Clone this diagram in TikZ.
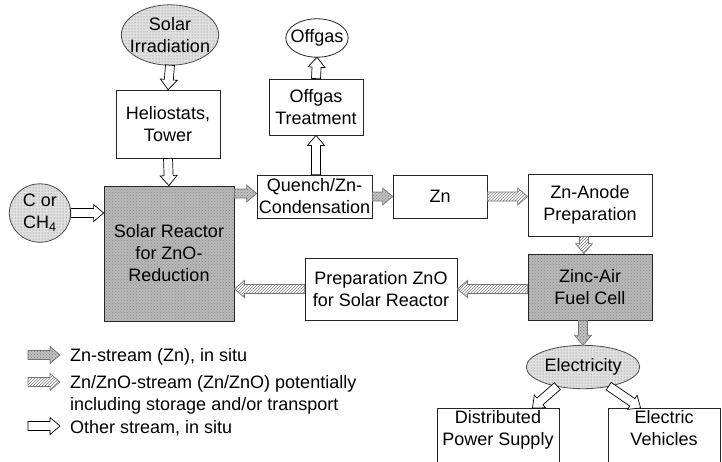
\documentclass[tikz,border=0pt]{standalone}
\usepackage{fontspec}
\setmainfont{Liberation Sans}
\usetikzlibrary{calc,patterns,backgrounds}
\newcommand{\dfont}{\fontsize{18}{22}\selectfont}
\newcommand{\blockarrow}[3]{%
  \path[#1] let \p1=($(#3)-(#2)$), \n1={veclen(\x1,\y1)}, \n2={atan2(\y1,\x1)} in
    [shift={(#2)}, rotate=\n2]
    (0pt,-4.5pt) -- ({\n1-10pt},-4.5pt) -- ({\n1-10pt},-8.5pt) -- ({\n1},0pt)
    -- ({\n1-10pt},8.5pt) -- ({\n1-10pt},4.5pt) -- (0pt,4.5pt) -- cycle;}
\newcommand{\ovalbg}[2]{%
  \begin{pgfonlayer}{background}
  \path[#2] let \p1=($(#1.north east)-(#1.center)$) in (#1.center) ellipse [x radius=\x1, y radius=\y1];
  \end{pgfonlayer}}
\begin{document}
\begin{tikzpicture}[x=1pt,y=1pt,
  box/.style={draw=black!85, line width=0.8pt, rectangle, align=center, inner sep=0pt, font=\dfont, fill=white},
  shaded/.style={box, preaction={fill=black!28}, pattern=crosshatch dots, pattern color=black!45},
  oval/.style={rectangle, align=center, inner sep=0pt, font=\dfont},
  dotfill/.style={draw=black!70, line width=0.8pt, preaction={fill=black!12}, pattern=dots, pattern color=black!55},
  plainfill/.style={draw=black!85, line width=0.8pt, fill=white},
  other/.style={draw=black, line width=0.7pt, fill=white},
  znarrow/.style={draw=black!55, line width=0.7pt, preaction={fill=black!25}, pattern=crosshatch dots, pattern color=black!50},
  hatcharrow/.style={draw=black!55, line width=0.7pt, preaction={fill=white}, pattern=north east lines, pattern color=black!50},
  legend/.style={anchor=west, font=\dfont, inner sep=0pt, align=left},
]
\useasboundingbox (0,0) rectangle (722,-461);
\clip (0,0) rectangle (722,-461);

% nodes
\node[oval, minimum width=97, minimum height=60] (solar) at (170,-35) {Solar\\Irradiation};
\ovalbg{solar}{dotfill}
\node[box, minimum width=104, minimum height=68] (helio) at (168,-124) {Heliostats,\\Tower};
\node[shaded, minimum width=130, minimum height=135] (reactor) at (169,-253.5) {Solar Reactor\\for ZnO-\\Reduction};
\node[oval, minimum width=61, minimum height=58] (cor) at (40,-213) {C or\\CH\textsubscript{4}};
\ovalbg{cor}{dotfill}
\node[box, minimum width=115, minimum height=43] (quench) at (314.5,-196.5) {Quench/Zn-\\Condensation};
\node[box, minimum width=94, minimum height=56] (treat) at (316,-107) {Offgas\\Treatment};
\node[oval, minimum width=62, minimum height=38] (offgas) at (317,-38) {Offgas};
\ovalbg{offgas}{plainfill}
\node[box, minimum width=94, minimum height=43] (zn) at (440,-196.5) {Zn};
\node[box, minimum width=124, minimum height=62] (anode) at (590,-205) {Zn-Anode\\Preparation};
\node[shaded, minimum width=124, minimum height=66] (fc) at (590,-287) {Zinc-Air\\Fuel Cell};
\node[box, minimum width=152, minimum height=62] (prep) at (381,-289) {Preparation ZnO\\for Solar Reactor};
\node[oval, minimum width=113, minimum height=43] (elec) at (583,-367) {Electricity};
\ovalbg{elec}{dotfill}
\node[box, anchor=north, minimum width=122, inner ysep=2pt, text depth=22pt] (dist) at (498,-408) {Distributed\\Power Supply};
\node[box, anchor=north, minimum width=112, inner ysep=2pt, text depth=22pt] (veh) at (664,-408) {Electric\\Vehicles};

% helper coordinates
\coordinate (c2) at (cor.east -| reactor.west);
\coordinate (rq) at ($(quench.west -| reactor.east)+(0,3)$);
\coordinate (rq2) at ($(quench.west)+(0,3)$);
\coordinate (za) at (zn.east -| anode.west);
\coordinate (af1) at ($(anode.south)+(-6,0)$);
\coordinate (af2) at ($(fc.north)+(-6,0)$);
\coordinate (fp) at (prep.east -| fc.west);
\coordinate (pr) at (prep.west -| reactor.east);
\coordinate (qt) at (treat.south |- quench.north);
\coordinate (fe) at (fc.south -| elec.north);
\coordinate (e1) at ($(elec.center)+(243:56.5 and 21.5)$);
\coordinate (d1) at ($(dist.north east)+(-27,0)$);
\coordinate (e2) at ($(elec.center)+(297:56.5 and 21.5)$);
\coordinate (v1) at ($(veh.north west)+(33,0)$);

% connectors
\blockarrow{other}{solar.south}{helio.north}
\blockarrow{other}{helio.south}{reactor.north}
\blockarrow{other}{cor.east}{c2}
\blockarrow{znarrow}{rq}{rq2}
\blockarrow{znarrow}{quench.east}{zn.west}
\blockarrow{hatcharrow}{zn.east}{za}
\blockarrow{hatcharrow}{af1}{af2}
\blockarrow{hatcharrow}{fp}{prep.east}
\blockarrow{hatcharrow}{prep.west}{pr}
\blockarrow{other}{qt}{treat.south}
\blockarrow{other}{treat.north}{offgas.south}
\blockarrow{znarrow}{fe}{elec.north}
\blockarrow{other}{e1}{d1}
\blockarrow{other}{e2}{v1}

% legend
\coordinate (l1a) at (28,-355); \coordinate (l1b) at (60,-355);
\coordinate (l2a) at (28,-382); \coordinate (l2b) at (60,-382);
\coordinate (l3a) at (28,-426); \coordinate (l3b) at (60,-426);
\blockarrow{znarrow}{l1a}{l1b}
\blockarrow{hatcharrow}{l2a}{l2b}
\blockarrow{other}{l3a}{l3b}
\node[legend] (t1) at (70,-357) {Zn-stream (Zn), in situ};
\node[legend, anchor=north west] (t2) at (70,-375) {Zn/ZnO-stream (Zn/ZnO) potentially\\including storage and/or transport};
\node[legend] (t3) at (70,-428) {Other stream, in situ};
\end{tikzpicture}
\end{document}
